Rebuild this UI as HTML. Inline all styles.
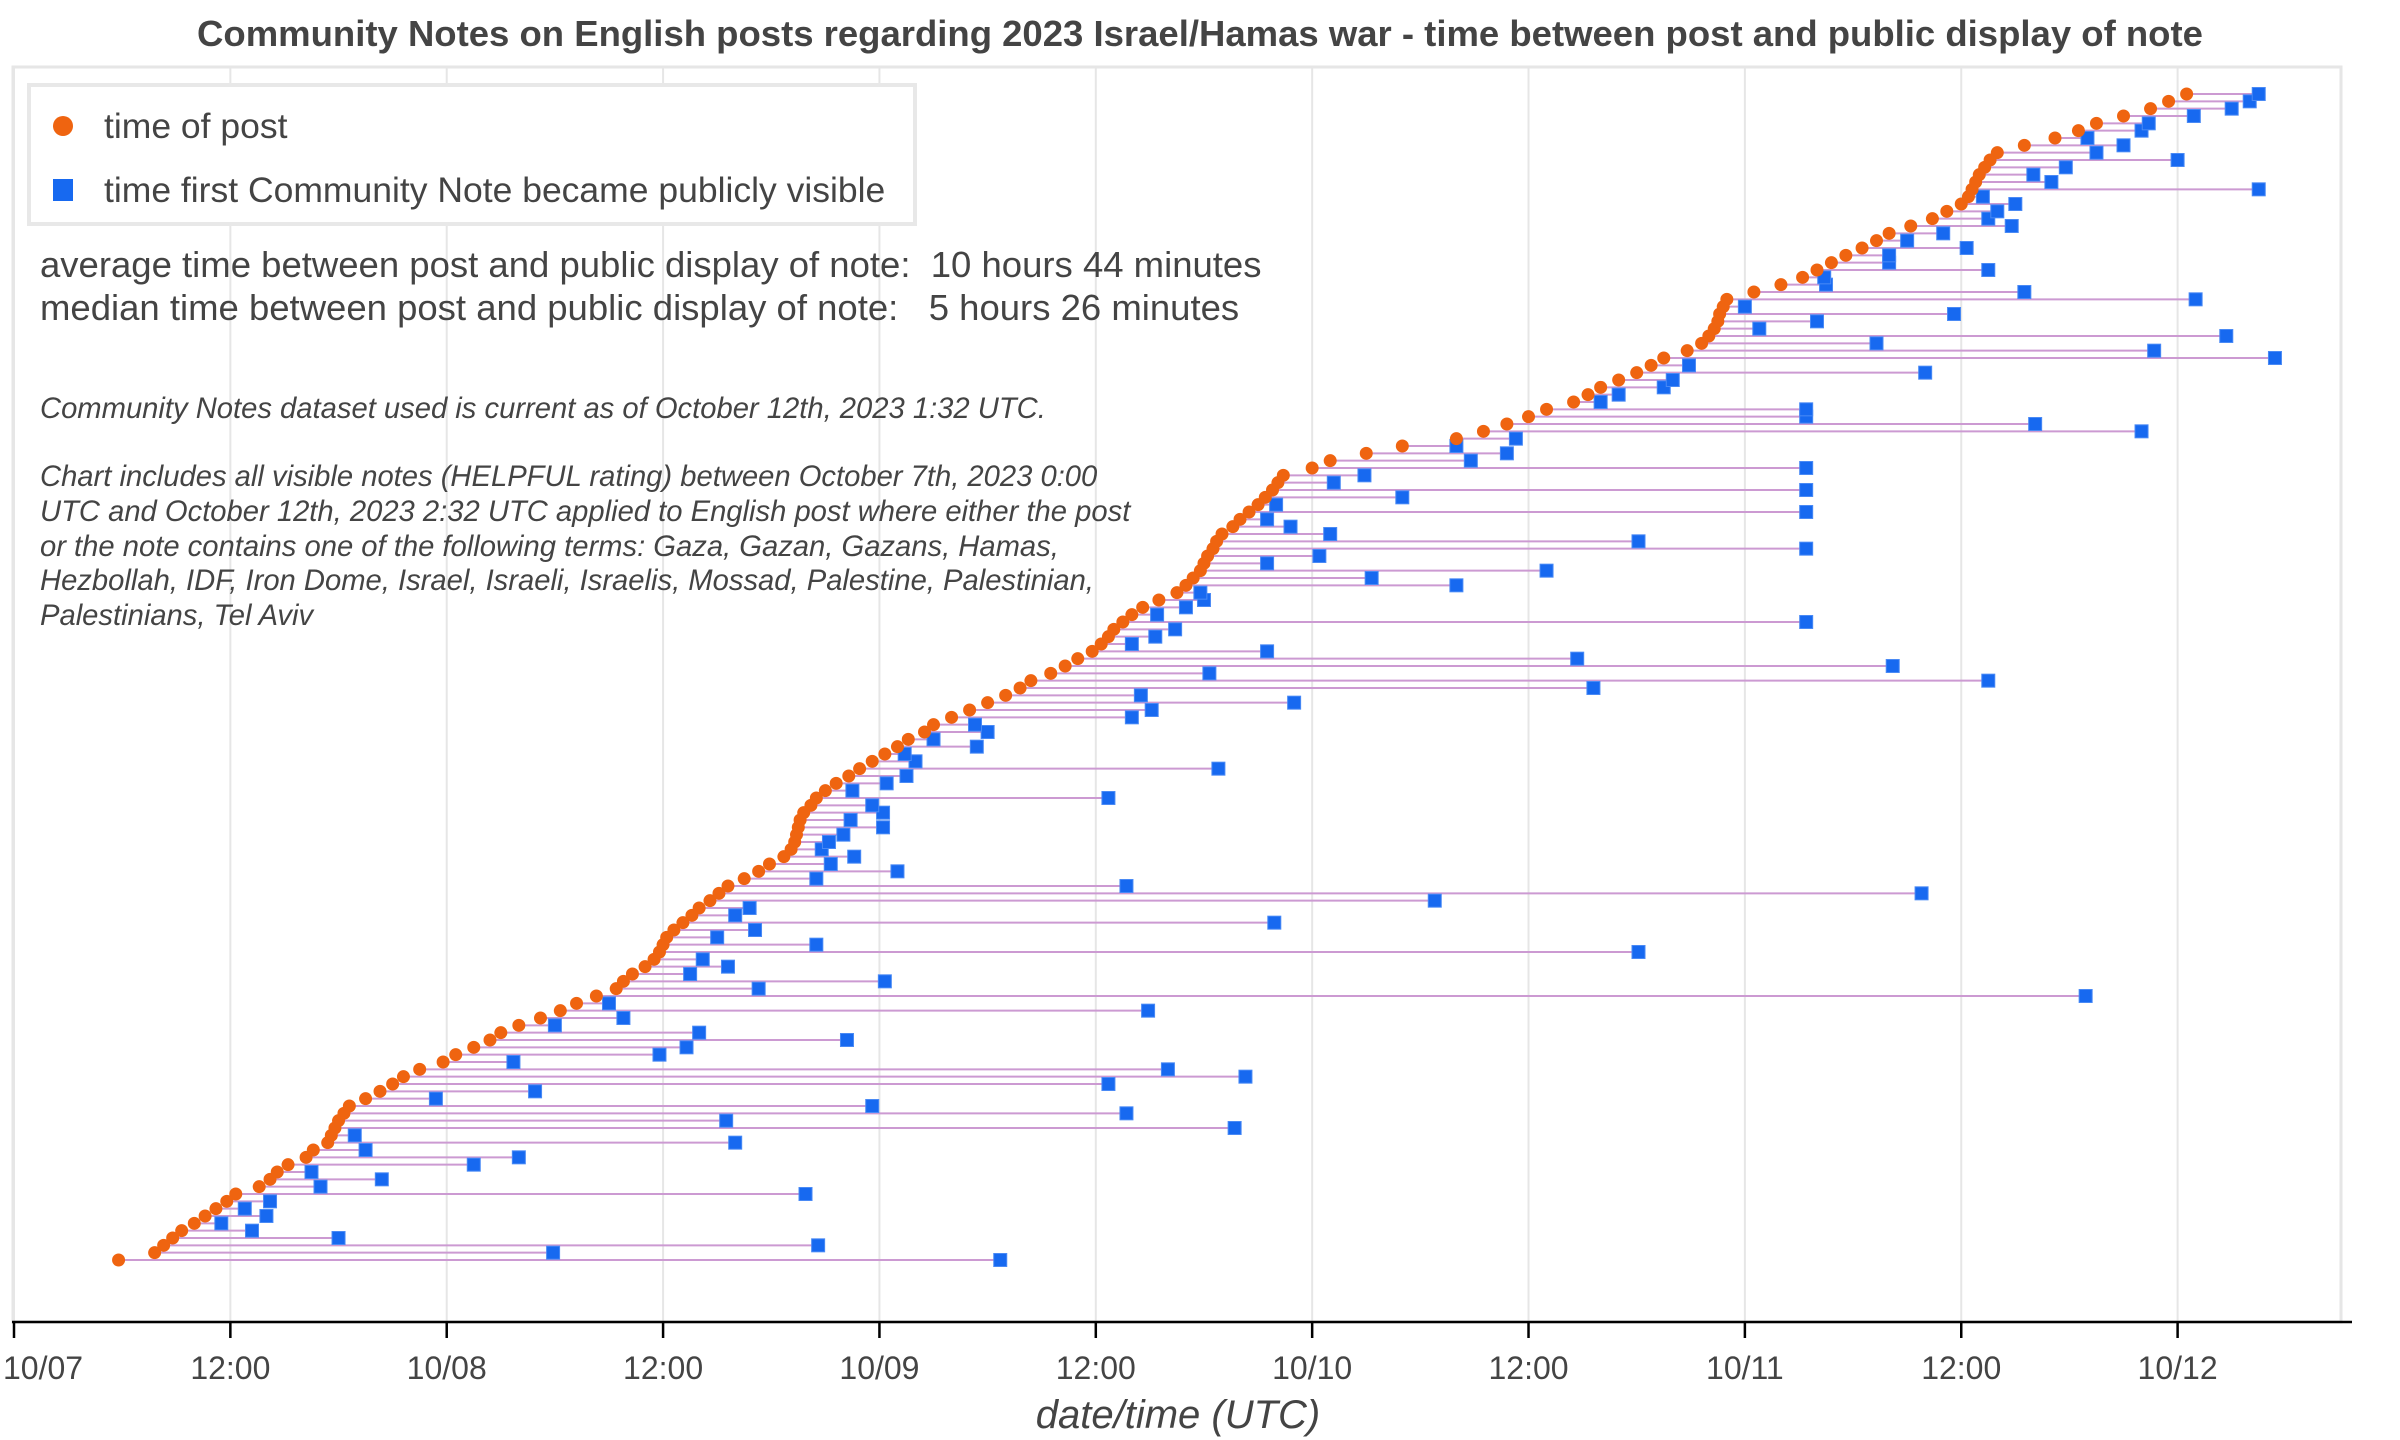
<!DOCTYPE html>
<html><head><meta charset="utf-8"><style>
html,body{margin:0;padding:0;background:#fff;}
svg{display:block;font-family:"Liberation Sans",Arial,sans-serif;}
</style></head><body>
<svg id="chart" width="2400" height="1440" viewBox="0 0 2400 1440" xmlns="http://www.w3.org/2000/svg">
<rect width="2400" height="1440" fill="#fff"/>
<text x="1200" y="46" text-anchor="middle" font-size="36.5" font-weight="bold" fill="#444">Community Notes on English posts regarding 2023 Israel/Hamas war - time between post and public display of note</text>
<rect x="13" y="67" width="2328" height="1255" fill="none" stroke="#e6e6e6" stroke-width="3"/>
<g id="grid"></g>
<g id="marks"></g>
<g id="xaxis"></g>
<g>
<rect x="29" y="85" width="886" height="139" fill="#fff" stroke="#e8e8e8" stroke-width="4"/>
<circle cx="63" cy="126" r="10" fill="#ef6410"/>
<text x="104" y="138" font-size="35.5" fill="#444">time of post</text>
<rect x="53" y="179" width="20" height="22" fill="#1769f0"/>
<text x="104" y="202" font-size="35.5" fill="#444">time first Community Note became publicly visible</text>
</g>
<text x="40" y="277" font-size="36.5" fill="#444" xml:space="preserve">average time between post and public display of note:  10 hours 44 minutes</text>
<text x="40" y="320" font-size="36.5" fill="#444" xml:space="preserve">median time between post and public display of note:   5 hours 26 minutes</text>
<g font-size="29.2" font-style="italic" fill="#444">
<text x="40" y="418">Community Notes dataset used is current as of October 12th, 2023 1:32 UTC.</text>
<text x="40" y="486">Chart includes all visible notes (HELPFUL rating) between October 7th, 2023 0:00</text>
<text x="40" y="521">UTC and October 12th, 2023 2:32 UTC applied to English post where either the post</text>
<text x="40" y="556">or the note contains one of the following terms: Gaza, Gazan, Gazans, Hamas,</text>
<text x="40" y="590">Hezbollah, IDF, Iron Dome, Israel, Israeli, Israelis, Mossad, Palestine, Palestinian,</text>
<text x="40" y="625">Palestinians, Tel Aviv</text>
</g>
<text x="1178" y="1428" text-anchor="middle" font-size="40" font-style="italic" fill="#444">date/time (UTC)</text>
</svg>
<script>
const postHours = [5.8,7.8,8.3,8.8,9.3,10.0,10.6,11.2,11.8,12.3,13.6,14.2,14.6,15.2,16.2,16.6,17.4,17.6,17.8,18.0,18.3,18.6,19.5,20.3,21.0,21.6,22.5,23.8,24.5,25.5,26.4,27.0,28.0,29.2,30.3,31.2,32.3,33.4,33.8,34.3,35.0,35.5,35.8,36.0,36.2,36.6,37.1,37.6,38.0,38.6,39.1,39.6,40.5,41.3,41.9,42.7,43.1,43.3,43.4,43.5,43.6,43.8,44.2,44.5,45.0,45.6,46.3,46.9,47.6,48.3,49.0,49.6,50.5,51.0,52.0,53.0,54.0,55.0,55.8,56.4,57.5,58.3,59.0,59.8,60.3,60.7,61.0,61.5,62.0,62.6,63.5,64.5,65.0,65.4,65.8,66.0,66.2,66.5,66.7,67.0,67.6,68.0,68.5,69.0,69.4,69.8,70.1,70.4,72.0,73.0,75.0,77.0,80.0,81.5,82.8,84.0,85.0,86.5,87.3,88.0,89.0,90.0,90.8,91.5,92.8,93.6,94.0,94.3,94.5,94.6,94.8,95.0,96.5,98.0,99.2,100.0,100.8,101.6,102.5,103.3,104.0,105.2,106.4,107.2,108.0,108.4,108.6,108.8,109.0,109.3,109.6,110.0,111.5,113.2,114.5,115.5,117.0,118.5,119.5,120.5];
const noteHours = [54.7,29.9,44.6,18.0,13.2,11.5,14.0,12.8,14.2,43.9,17.0,20.4,16.5,25.5,28.0,19.5,40.0,18.9,67.7,39.5,61.7,47.6,23.4,28.9,60.7,68.3,64.0,27.7,35.8,37.3,46.2,38.0,30.0,33.8,62.9,33.0,114.9,41.3,48.3,37.5,39.6,38.2,90.1,44.5,39.0,41.1,69.9,40.0,40.8,78.8,105.8,61.7,44.5,49.0,45.3,46.6,44.8,45.2,46.0,48.2,46.4,48.2,47.6,60.7,46.5,48.4,49.5,66.8,50.0,49.4,53.4,51.0,54.0,53.3,62.0,63.1,71.0,62.5,87.6,109.5,66.3,104.2,86.7,69.5,62.0,63.3,64.4,99.4,63.4,65.0,66.0,65.8,80.0,75.3,85.0,69.5,72.4,99.4,90.1,73.0,70.8,69.5,99.4,70.0,77.0,99.4,73.2,74.9,99.4,80.8,82.8,80.0,83.3,118.0,112.1,99.4,99.4,88.0,89.0,91.5,92.0,106.0,92.9,125.4,118.7,103.3,122.7,96.8,100.0,107.6,96.0,121.0,111.5,100.5,100.4,109.5,104.0,104.0,108.3,105.0,107.0,110.8,109.5,110.0,111.0,109.2,124.5,113.0,112.0,113.8,120.0,115.5,117.0,115.0,118.0,118.4,120.9,123.0,124.0,124.5];
const tickHours = [0,12,24,36,48,60,72,84,96,108,120];
const tickLabels = ["10/07","12:00","10/08","12:00","10/09","12:00","10/10","12:00","10/11","12:00","10/12"];

const NS = "http://www.w3.org/2000/svg";
const X0 = 14, PXH = 18.03, AXY = 1322, YB = 1260, YT = 94;
function xScale(h){ return X0 + h*PXH; }
function yScale(i){ const n = postHours.length - 1; return YB - (YB-YT)*i/n; }
function mk(tag, attrs){ const e = document.createElementNS(NS, tag); for (const k in attrs) e.setAttribute(k, attrs[k]); return e; }

const grid = document.getElementById('grid');
const xaxis = document.getElementById('xaxis');
tickHours.forEach((h, k) => {
  const x = xScale(h);
  const gl = mk('line', {x1:x, x2:x, y1:68, y2:AXY, stroke:'#e6e6e6', 'stroke-width':2});
  
  
  grid.appendChild(gl);
  const t = mk('line', {x1:x, x2:x, y1:AXY, y2:AXY+16, stroke:'#000', 'stroke-width':2.5});
  
  
  xaxis.appendChild(t);
  const first = k === 0;
  const lb = mk('text', {x: first ? 3 : x, y:AXY+57, 'text-anchor': first ? 'start' : 'middle', 'font-size':32, fill:'#444'});
  lb.textContent = tickLabels[k];
  
  
  xaxis.appendChild(lb);
});
const axl = mk('line', {x1:12, x2:2352, y1:AXY, y2:AXY, stroke:'#000', 'stroke-width':2.5});


xaxis.appendChild(axl);

const marks = document.getElementById('marks');
const lines = mk('g', {}); const notes = mk('g', {}); const posts = mk('g', {});
marks.appendChild(lines); marks.appendChild(notes); marks.appendChild(posts);
postHours.forEach((p, i) => {
  const y = yScale(i), xp = xScale(p), xn = xScale(noteHours[i]);
  const ln = mk('line', {x1:xp, x2:xn, y1:y, y2:y, stroke:'#cc9ad2', 'stroke-width':2});
  
  
  lines.appendChild(ln);
  const sq = mk('rect', {x:xn-6.5, y:y-6.5, width:13, height:13, fill:'#1769f0', stroke:'#4a8af5', 'stroke-width':1});
  
  
  notes.appendChild(sq);
  const c = mk('circle', {cx:xp, cy:y, r:6.5, fill:'#ef6410'});
  
  
  posts.appendChild(c);
});
</script>
</body></html>
